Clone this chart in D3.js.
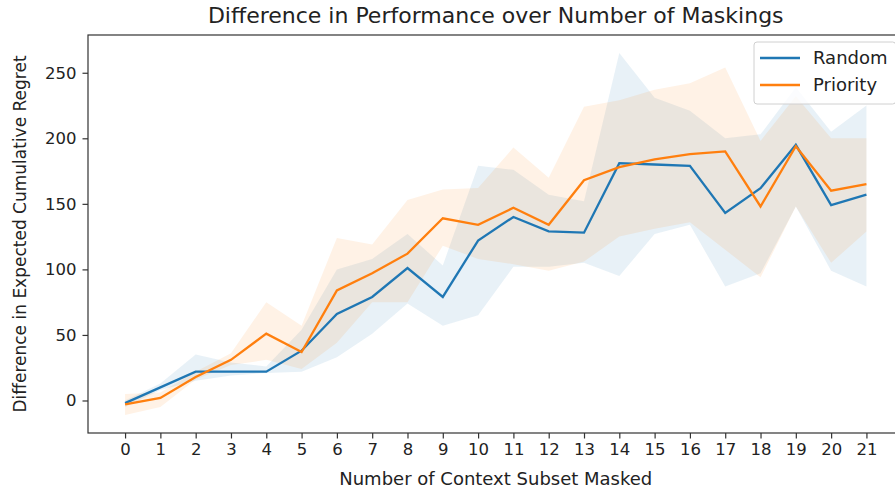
<!DOCTYPE html>
<html>
<head>
<meta charset="utf-8">
<script src="https://cdn.jsdelivr.net/npm/d3@7"></script>
<style>
    body { margin: 0; background: #fff; }
    text { font-family: "DejaVu Sans", sans-serif; fill: #222; }
</style>
</head>
<body>
<script>
// values
var masked = [0, 1, 2, 3, 4, 5, 6, 7, 8, 9, 10, 11, 12, 13, 14, 15, 16, 17, 18, 19, 20, 21];

var randomMean  = [-2, 10, 22, 22, 22, 38, 66, 79, 101, 79, 122, 140, 129, 128, 181, 180, 179, 143, 162, 195, 149, 157];
var randomLower = [-5, 8, 15, 19, 21, 22, 33, 51, 74, 57, 65, 102, 102, 105, 95, 127, 134, 87, 97, 148, 99, 87];
var randomUpper = [0, 13, 35, 29, 26, 54, 100, 108, 127, 103, 179, 176, 157, 152, 265, 231, 221, 200, 203, 239, 205, 225];

var priorityMean  = [-3, 2, 18, 31, 51, 37, 84, 97, 112, 139, 134, 147, 134, 168, 178, 184, 188, 190, 148, 194, 160, 165];
var priorityLower = [-11, -5, 16, 27, 31, 24, 44, 75, 75, 118, 108, 104, 99, 106, 125, 131, 136, 115, 94, 148, 105, 129];
var priorityUpper = [5, 6, 22, 36, 75, 57, 124, 119, 153, 161, 162, 193, 170, 224, 229, 237, 242, 254, 198, 232, 200, 200];

var yTicks = [0, 50, 100, 150, 200, 250];

var series = [
    {name: "Random", color: "#1f77b4", mean: randomMean, lower: randomLower, upper: randomUpper},
    {name: "Priority", color: "#ff7f0e", mean: priorityMean, lower: priorityLower, upper: priorityUpper}
];

var width = 895,
    height = 491;

// axes box (right side runs past the picture edge, like the reference)
// note: "top" is taken by window.top, so use prefixed names
var mL = 88, mR = 903.5, mT = 35, mB = 433;

var svg = d3.select("body").append("svg")
    .attr("width", width)
    .attr("height", height);

// matplotlib style 5% margins
var xMin = d3.min(masked), xMax = d3.max(masked);
var xPad = (xMax - xMin) * 0.05;
var x = d3.scaleLinear()
    .domain([xMin - xPad, xMax + xPad])
    .range([mL, mR]);

var yMin = d3.min(series, function(s) { return d3.min(s.lower); }),
    yMax = d3.max(series, function(s) { return d3.max(s.upper); });
var yPad = (yMax - yMin) * 0.05;
var y = d3.scaleLinear()
    .domain([yMin - yPad, yMax + yPad])
    .range([mB, mT]);

var area = function(s) {
    return d3.area()
        .x(function(d, i) { return x(masked[i]); })
        .y0(function(d, i) { return y(s.lower[i]); })
        .y1(function(d, i) { return y(s.upper[i]); });
};

var line = d3.line()
    .x(function(d, i) { return x(masked[i]); })
    .y(function(d) { return y(d); });

var plot = svg.append("g");

// shaded bands first
plot.selectAll(".band")
    .data(series)
    .enter().append("path")
    .attr("class", "band")
    .attr("d", function(s) { return area(s)(s.mean); })
    .attr("fill", function(s) { return s.color; })
    .attr("fill-opacity", 0.1);

plot.selectAll(".line")
    .data(series)
    .enter().append("path")
    .attr("class", "line")
    .attr("d", function(s) { return line(s.mean); })
    .attr("fill", "none")
    .attr("stroke", function(s) { return s.color; })
    .attr("stroke-width", 2.3);

// axes
var xAxis = d3.axisBottom(x)
    .tickValues(masked)
    .tickFormat(d3.format("d"))
    .tickSize(5.5)
    .tickPadding(5)
    .tickSizeOuter(0);

var yAxis = d3.axisLeft(y)
    .tickValues(yTicks)
    .tickSize(5.5)
    .tickPadding(6)
    .tickSizeOuter(0);

var gx = svg.append("g")
    .attr("transform", "translate(0," + mB + ")")
    .call(xAxis);

var gy = svg.append("g")
    .attr("transform", "translate(" + mL + ",0)")
    .call(yAxis);

[gx, gy].forEach(function(g) {
    g.select(".domain").remove();
    g.selectAll(".tick line").attr("stroke", "#333").attr("stroke-width", 1.2);
    g.selectAll(".tick text")
        .attr("font-family", "DejaVu Sans, sans-serif")
        .attr("font-size", 16.5)
        .attr("fill", "#222");
});

// frame (spines)
svg.append("rect")
    .attr("x", mL)
    .attr("y", mT)
    .attr("width", mR - mL)
    .attr("height", mB - mT)
    .attr("fill", "none")
    .attr("stroke", "#333")
    .attr("stroke-width", 1.2);

// title and labels
svg.append("text")
    .attr("x", (mL + mR) / 2)
    .attr("y", 23)
    .attr("text-anchor", "middle")
    .attr("font-size", 22)
    .text("Difference in Performance over Number of Maskings");

svg.append("text")
    .attr("x", (mL + mR) / 2)
    .attr("y", 485)
    .attr("text-anchor", "middle")
    .attr("font-size", 18)
    .text("Number of Context Subset Masked");

svg.append("text")
    .attr("transform", "translate(26," + (mT + mB) / 2 + ") rotate(-90)")
    .attr("text-anchor", "middle")
    .attr("font-size", 17)
    .text("Difference in Expected Cumulative Regret");

// legend, upper right
var legend = svg.append("g");

legend.append("rect")
    .attr("x", 754)
    .attr("y", 42)
    .attr("width", mR - 7.8 - 754)
    .attr("height", 62)
    .attr("rx", 3)
    .attr("fill", "#fff")
    .attr("fill-opacity", 0.8)
    .attr("stroke", "#d0d0d0");

var item = legend.selectAll(".item")
    .data(series)
    .enter().append("g")
    .attr("class", "item")
    .attr("transform", function(d, i) { return "translate(0," + (58 + i * 27) + ")"; });

item.append("line")
    .attr("x1", 760)
    .attr("x2", 800)
    .attr("stroke", function(d) { return d.color; })
    .attr("stroke-width", 2.3);

item.append("text")
    .attr("x", 813)
    .attr("dy", "0.35em")
    .attr("font-size", 18)
    .text(function(d) { return d.name; });
</script>
</body>
</html>
